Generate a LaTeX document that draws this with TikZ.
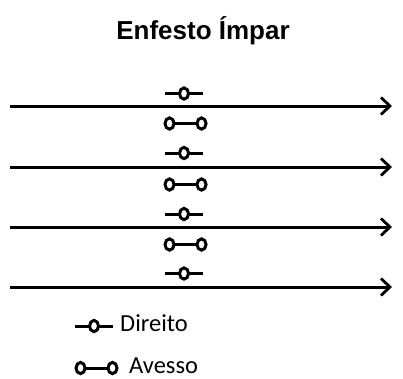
\documentclass[tikz,border=0pt]{standalone}
\usepackage{fontspec}
\setmainfont{Liberation Sans}
\newfontfamily\legendfont{Carlito}
\usetikzlibrary{arrows.meta}
\tikzset{
  rowline/.style={line width=3pt,
    -{Straight Barb[length=9pt,width=17pt,line width=2.8pt]}},
  stitch/.style={line width=3pt},
  loopring/.style={line width=3pt, fill=white},
  direito/.pic={
    \draw[stitch] (-19,0) -- (19,0);
    \draw[loopring] (0,0) ellipse [x radius=4.5pt, y radius=5.6pt];
  },
  avesso/.pic={
    \draw[stitch] (-16,0) -- (16,0);
    \draw[loopring] (-16,0) ellipse [x radius=4.5pt, y radius=5.6pt];
    \draw[loopring] (16,0) ellipse [x radius=4.5pt, y radius=5.6pt];
  },
  legendtext/.style={anchor=base west, inner sep=0pt,
    font=\legendfont\fontsize{24.5}{28}\selectfont}
}
\begin{document}
\begin{tikzpicture}[x=1pt,y=-1pt]
\useasboundingbox (0,0) rectangle (403,378);

% title
\node[anchor=base, inner sep=0pt, font=\bfseries\fontsize{26}{30}\selectfont]
  (title) at (203,39) {Enfesto Ímpar};

% the four fabric rows
\foreach \i/\y in {1/106,2/167,3/227,4/287}{
  \coordinate (r\i s) at (10,\y);
  \coordinate (r\i e) at (392,\y);
  \draw[rowline] (r\i s) -- (r\i e);
}

% face-up stitches above each row
\foreach \y in {93.5,153,214,273.5}{
  \pic at (184,\y) {direito};
}
% face-down stitches between rows
\foreach \y in {123.5,184.5,244.5}{
  \pic at (185.5,\y) {avesso};
}

% legend
\pic at (94,326) {direito};
\node[legendtext] (ldir) at (120,331) {Direito};
\pic at (96.5,368) {avesso};
\node[legendtext] (lav) at (129,373) {Avesso};
\end{tikzpicture}
\end{document}
